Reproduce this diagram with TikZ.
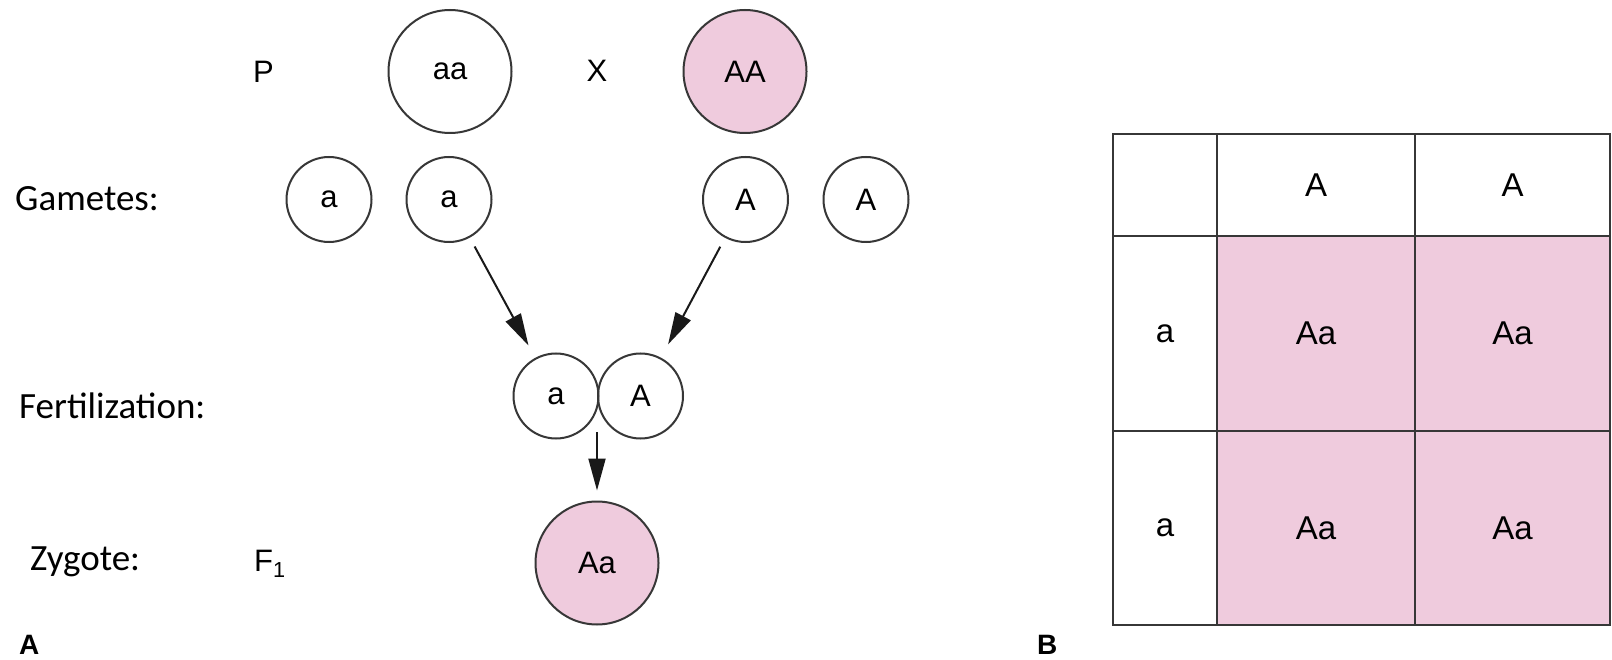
\documentclass[tikz,border=0pt]{standalone}
\usepackage{fontspec}
\setmainfont{Liberation Sans}
\newfontfamily\calibrifont{Carlito}
\usetikzlibrary{arrows.meta}
\definecolor{pinkfill}{RGB}{239,203,221}
\definecolor{inkline}{RGB}{55,55,55}
\begin{document}
\begin{tikzpicture}[x=1pt,y=-1pt,
  lbl/.style={font=\calibrifont\fontsize{37}{44}\selectfont, anchor=base west, inner sep=0pt},
  sym/.style={font=\fontsize{31}{36}\selectfont, inner sep=0pt},
  bigc/.style={circle, draw=inkline, line width=2pt, minimum size=123pt, inner sep=0pt, font=\fontsize{31}{36}\selectfont},
  smallc/.style={circle, draw=inkline, line width=2pt, minimum size=85pt, inner sep=0pt, font=\fontsize{31}{36}\selectfont},
  conn/.style={draw=black!90, line width=2pt, -{Triangle[length=32pt,width=17pt]}},
  cell/.style={font=\fontsize{33}{38}\selectfont, inner sep=0pt},
  tline/.style={draw=inkline, line width=2.6pt},
  panel/.style={font=\bfseries\fontsize{28}{33}\selectfont, anchor=base west, inner sep=0pt}]
\useasboundingbox (0,0) rectangle (1612,660);
\fill[white] (0,0) rectangle (1612,660);

% ---------- Panel A ----------
\node[sym, anchor=base] (P) at (263.5,83) {P};
\node[bigc] (aa) at (450,71.5) {aa};
\node[sym, anchor=base] (X) at (597,82) {X};
\node[bigc, fill=pinkfill] (AA) at (745,71.5) {AA};

\node[lbl] (gam) at (15,210.7) {Gametes:};
\node[smallc] (g1) at (329,199.5) {a};
\node[smallc] (g2) at (449,199.5) {a};
\node[smallc] (g3) at (745.5,199.5) {A};
\node[smallc] (g4) at (866,199.5) {A};

\node[lbl] (fert) at (19,418) {Fertilization:};
\node[smallc] (fa) at (556,396) {a};
\node[smallc] (fA) at (640.5,396) {A};
\coordinate (fmid) at (597,432);

\node[lbl] (zy) at (30,570) {Zygote:};
\node[sym, anchor=base west] (F1) at (254,571) {F\textsubscript{1}};
\node[bigc, fill=pinkfill] (zyg) at (597,563) {Aa};

\draw[conn, shorten <=10pt, shorten >=14pt] (g2) -- (fa);
\draw[conn, shorten <=10pt, shorten >=15pt] (g3) -- (fA);
\draw[conn, shorten >=10pt] (fmid) -- (zyg.north);

\node[panel] (labA) at (19,654) {A};

% ---------- Panel B ----------
\fill[pinkfill] (1217,236) rectangle (1610,625);
\draw[tline] (1113,134) rectangle (1610,625);
\draw[tline] (1217,134) -- (1217,625);
\draw[tline] (1415,134) -- (1415,625);
\draw[tline] (1113,236) -- (1610,236);
\draw[tline] (1113,431) -- (1610,431);

\node[cell] (h1) at (1316,185) {A};
\node[cell] (h2) at (1512.5,185) {A};
\node[cell] (r1) at (1165,333.5) {a};
\node[cell] (r2) at (1165,528) {a};
\node[cell] (c11) at (1316,333.5) {Aa};
\node[cell] (c12) at (1512.5,333.5) {Aa};
\node[cell] (c21) at (1316,528) {Aa};
\node[cell] (c22) at (1512.5,528) {Aa};

\node[panel] (labB) at (1037,654) {B};
\end{tikzpicture}
\end{document}
